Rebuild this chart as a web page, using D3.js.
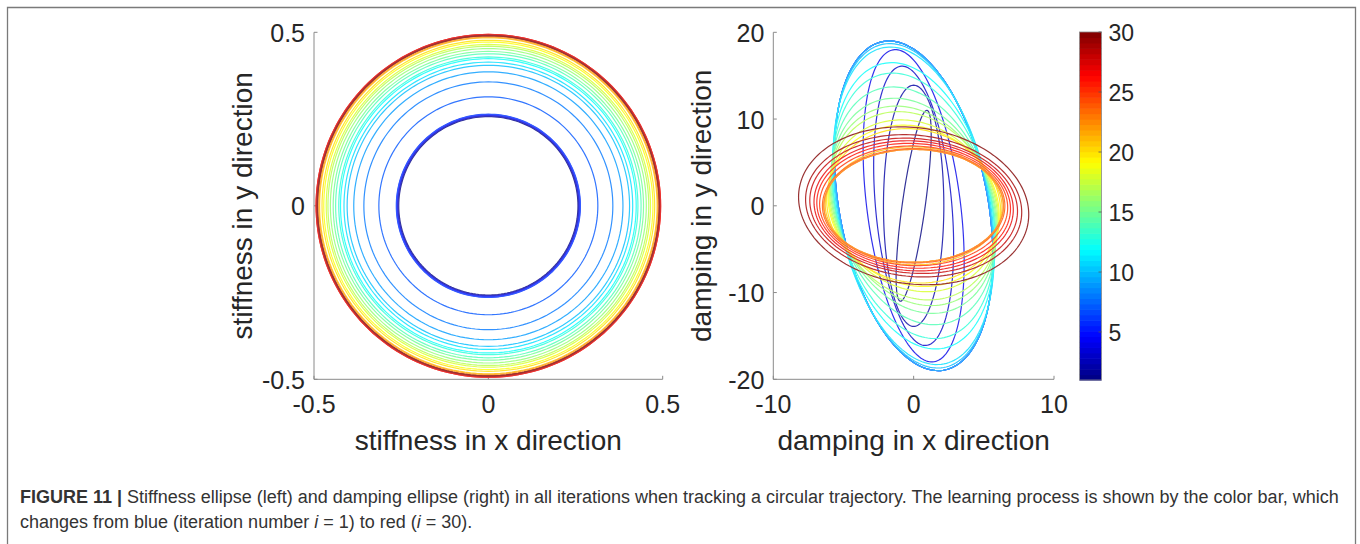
<!DOCTYPE html>
<html>
<head>
<meta charset="utf-8">
<script src="https://cdn.jsdelivr.net/npm/d3@7"></script>
<style>
  body { margin: 0; background: #fff; }
  svg { display: block; }
  text { font-family: "Liberation Sans", Arial, Helvetica, sans-serif; }
</style>
</head>
<body>
<svg id="fig" width="1360" height="544"></svg>
<script>
// Iteration numbers of the learning process (colour coded 1 -> 30)
const iterations = d3.range(1, 31);

// Stiffness ellipse (a circle) radius per iteration
const stiffnessRadius = [
  0.257, 0.259, 0.260, 0.262, 0.263, 0.264, 0.314, 0.357, 0.386, 0.405,
  0.414, 0.424, 0.429, 0.438, 0.445, 0.453, 0.460, 0.465, 0.472, 0.477,
  0.484, 0.486, 0.489, 0.491, 0.493, 0.494, 0.494, 0.492, 0.491, 0.490
];

// Damping ellipse per iteration: half-width in x, half-height in y,
// and x/y correlation (cosine of the phase between the two components)
const dampingHalfWidth = [
  1.25, 2.15, 2.85, 3.60, 5.65, 5.65, 5.65, 5.65, 5.65, 5.70,
  5.75, 5.80, 5.80, 5.85, 5.90, 5.95, 6.00, 6.05, 6.10, 6.20,
  6.30, 6.40, 6.40, 6.50, 6.70, 6.90, 7.10, 7.40, 7.70, 8.20
];
const dampingHalfHeight = [
  11.0, 13.9, 16.1, 18.0, 19.0, 19.0, 19.0, 19.0, 19.0, 18.7,
  18.3, 16.5, 15.3, 13.7, 12.4, 11.5, 10.85, 9.9, 9.3, 8.9,
  6.8, 6.5, 6.5, 6.6, 6.9, 7.2, 7.5, 7.8, 8.2, 9.1
];
const dampingCorrelation = [
  0.75, 0.00, -0.29, -0.36, -0.31, -0.31, -0.31, -0.31, -0.31, -0.30,
  -0.29, -0.27, -0.26, -0.25, -0.23, -0.21, -0.18, -0.15, -0.12, -0.08,
  -0.02, 0.00, 0.00, 0.00, -0.03, -0.05, -0.06, -0.08, -0.09, -0.11
];

// Axis ticks
const stiffnessTicks = [-0.5, 0, 0.5];
const dampingXTicks = [-10, 0, 10];
const dampingYTicks = [-20, -10, 0, 10, 20];
const colorbarTicks = [5, 10, 15, 20, 25, 30];

// Caption
const captionLabel = "FIGURE 11 | ";
const captionLine1 = "Stiffness ellipse (left) and damping ellipse (right) in all iterations when tracking a circular trajectory. The learning process is shown by the color bar, which";
const captionLine2 = [
  {t: "changes from blue (iteration number ", it: false},
  {t: "i", it: true},
  {t: " = 1) to red (", it: false},
  {t: "i", it: true},
  {t: " = 30).", it: false}
];

// MATLAB-style jet colour map
function jet(t) {
  const c = v => Math.max(0, Math.min(1, v));
  const r = c(1.5 - Math.abs(4 * t - 3));
  const g = c(1.5 - Math.abs(4 * t - 2));
  const b = c(1.5 - Math.abs(4 * t - 1));
  return d3.rgb(r * 255, g * 255, b * 255).formatHex();
}
const color = d3.scaleSequential(jet).domain([1, 30]);
// thin plotted lines render a little lighter than the bar itself
const lineColor = i => d3.interpolateRgb(color(i), "#ffffff")(0.2);

const svg = d3.select("#fig");
const TEXT = "#262626";
const AXIS = "#8a8a8a";
const TICK_FS = 25;
const TITLE_FS = 28;
const LINE_W = 1.2;

// Figure frame
svg.append("path")
  .attr("d", "M7.5,544 V7.5 H1355.5 V544")
  .attr("fill", "none").attr("stroke", "#7a7a7a").attr("stroke-width", 1.3);

const plotTop = 32.3, plotBottom = 379.3;

function drawAxes(g, x, y, xTicks, yTicks, fmt, xTitle, yTitle) {
  const [x0, x1] = x.range();
  const [y0, y1] = y.range(); // y0 bottom, y1 top
  g.append("line").attr("x1", x0).attr("x2", x1).attr("y1", y0).attr("y2", y0)
    .attr("stroke", AXIS).attr("stroke-width", 1);
  g.append("line").attr("x1", x0).attr("x2", x0).attr("y1", y0).attr("y2", y1)
    .attr("stroke", AXIS).attr("stroke-width", 1);
  // inward ticks
  xTicks.forEach(v => {
    g.append("line").attr("x1", x(v)).attr("x2", x(v)).attr("y1", y0).attr("y2", y0 - 3.5)
      .attr("stroke", AXIS).attr("stroke-width", 1);
    g.append("text").attr("x", x(v)).attr("y", y0 + 34)
      .attr("text-anchor", "middle").attr("font-size", TICK_FS).attr("fill", TEXT)
      .text(fmt(v));
  });
  yTicks.forEach(v => {
    g.append("line").attr("x1", x0).attr("x2", x0 + 3.5).attr("y1", y(v)).attr("y2", y(v))
      .attr("stroke", AXIS).attr("stroke-width", 1);
    g.append("text").attr("x", x0 - 9).attr("y", y(v) + 9.5)
      .attr("text-anchor", "end").attr("font-size", TICK_FS).attr("fill", TEXT)
      .text(fmt(v));
  });
  g.append("text").attr("x", (x0 + x1) / 2).attr("y", y0 + 71)
    .attr("text-anchor", "middle").attr("font-size", TITLE_FS).attr("fill", TEXT)
    .text(xTitle);
  const cy = (y0 + y1) / 2;
  g.append("text").attr("transform", `translate(${x0 - 62},${cy}) rotate(-90)`)
    .attr("text-anchor", "middle").attr("font-size", TITLE_FS).attr("fill", TEXT)
    .text(yTitle);
}

const fmtNum = v => String(v); // hyphen-minus like MATLAB

// ---- Stiffness panel ----
const xS = d3.scaleLinear().domain([-0.5, 0.5]).range([314, 662.7]);
const yS = d3.scaleLinear().domain([-0.5, 0.5]).range([plotBottom, plotTop]);
const gS = svg.append("g");
drawAxes(gS, xS, yS, stiffnessTicks, stiffnessTicks, fmtNum,
  "stiffness in x direction", "stiffness in y direction");

const theta = d3.range(0, 361, 2).map(d => d * Math.PI / 180);
const lineS = d3.line().x(p => xS(p[0])).y(p => yS(p[1])).curve(d3.curveLinearClosed);
gS.selectAll("path.ring").data(iterations).join("path")
  .attr("class", "ring")
  .attr("d", i => {
    const r = stiffnessRadius[i - 1];
    return lineS(theta.map(t => [r * Math.cos(t), r * Math.sin(t)]));
  })
  .attr("fill", "none").attr("stroke", lineColor).attr("stroke-width", LINE_W);

// ---- Damping panel ----
const xD = d3.scaleLinear().domain([-10, 10]).range([773.3, 1054]);
const yD = d3.scaleLinear().domain([-20, 20]).range([plotBottom, plotTop]);
const gD = svg.append("g");
drawAxes(gD, xD, yD, dampingXTicks, dampingYTicks, fmtNum,
  "damping in x direction", "damping in y direction");

const lineD = d3.line().x(p => xD(p[0])).y(p => yD(p[1])).curve(d3.curveLinearClosed);
gD.selectAll("path.ell").data(iterations).join("path")
  .attr("class", "ell")
  .attr("d", i => {
    const W = dampingHalfWidth[i - 1], H = dampingHalfHeight[i - 1];
    const rho = dampingCorrelation[i - 1], s = Math.sqrt(1 - rho * rho);
    return lineD(theta.map(t => [W * Math.cos(t), H * (rho * Math.cos(t) + s * Math.sin(t))]));
  })
  .attr("fill", "none").attr("stroke", lineColor).attr("stroke-width", LINE_W);

// ---- Colour bar ----
const cbX = 1079.5, cbW = 22;
const yC = d3.scaleLinear().domain([1, 30]).range([380, 32]);
const nBands = 64;
const gC = svg.append("g");
gC.selectAll("rect.band").data(d3.range(nBands)).join("rect")
  .attr("class", "band")
  .attr("x", cbX).attr("width", cbW)
  .attr("y", k => yC(1 + (k + 1) * 29 / nBands))
  .attr("height", k => yC(1 + k * 29 / nBands) - yC(1 + (k + 1) * 29 / nBands) + 0.6)
  .attr("fill", k => jet((k + 0.5) / nBands));
gC.append("rect").attr("x", cbX).attr("y", yC(30)).attr("width", cbW)
  .attr("height", yC(1) - yC(30)).attr("fill", "none").attr("stroke", "#8a8a8a").attr("stroke-width", 0.8);
colorbarTicks.forEach(v => {
  gC.append("line").attr("x1", cbX + cbW).attr("x2", cbX + cbW - 3).attr("y1", yC(v)).attr("y2", yC(v))
    .attr("stroke", "#555").attr("stroke-width", 0.8);
  gC.append("text").attr("x", cbX + cbW + 7).attr("y", yC(v) + 8.5)
    .attr("font-size", 23).attr("fill", TEXT).text(v);
});

// ---- Caption ----
const cap1 = svg.append("text").attr("x", 20).attr("y", 503)
  .attr("font-size", 18).attr("fill", "#333");
cap1.append("tspan").attr("font-weight", "bold").text(captionLabel);
cap1.append("tspan").text(captionLine1);
const cap2 = svg.append("text").attr("x", 20).attr("y", 528)
  .attr("font-size", 18).attr("fill", "#333");
captionLine2.forEach(p => cap2.append("tspan")
  .attr("font-style", p.it ? "italic" : "normal").text(p.t));
</script>
</body>
</html>
